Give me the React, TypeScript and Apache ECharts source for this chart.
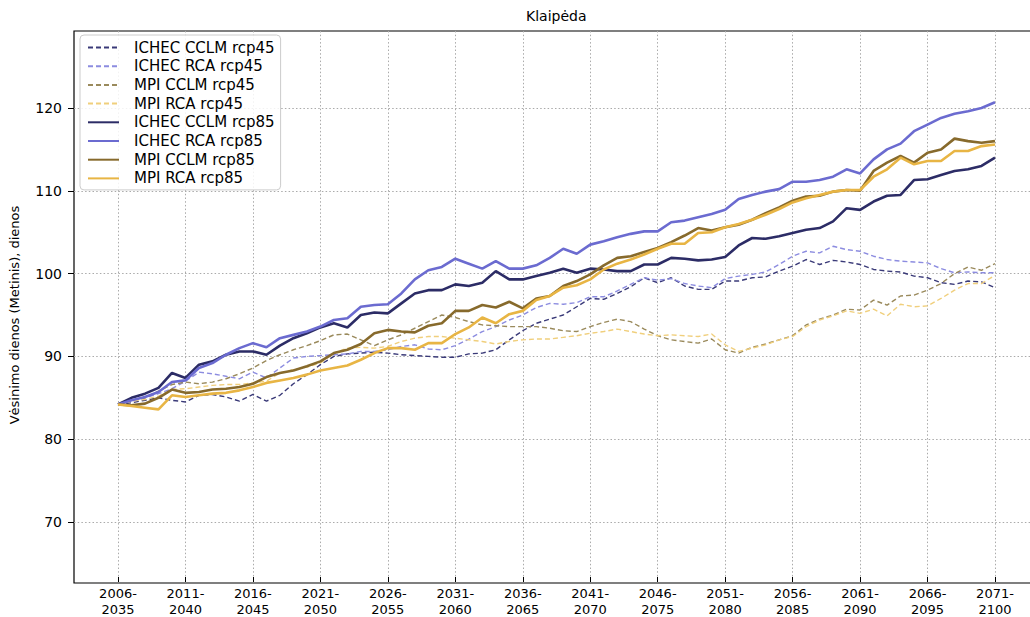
import React, { useEffect, useRef } from "react";
import * as echarts from "echarts";

const tickLabels = [
  "2006-\n2035", "2011-\n2040", "2016-\n2045", "2021-\n2050", "2026-\n2055",
  "2031-\n2060", "2036-\n2065", "2041-\n2070", "2046-\n2075", "2051-\n2080",
  "2056-\n2085", "2061-\n2090", "2066-\n2095", "2071-\n2100",
];

const seriesNames = [
  "ICHEC CCLM rcp45", "ICHEC RCA rcp45", "MPI CCLM rcp45", "MPI RCA rcp45",
  "ICHEC CCLM rcp85", "ICHEC RCA rcp85", "MPI CCLM rcp85", "MPI RCA rcp85",
];

const ichecCclm45 = [
  84.2, 84.4, 84.7, 85.0, 84.7, 84.5, 85.3, 85.4, 85.1, 84.6,
  85.4, 84.6, 85.3, 86.7, 87.8, 89.0, 90.0, 90.3, 90.4, 90.5,
  90.4, 90.2, 90.1, 90.0, 89.9, 89.9, 90.3, 90.4, 90.8, 92.0,
  93.1, 94.0, 94.5, 95.0, 96.0, 97.0, 96.9, 97.6, 98.4, 99.5,
  98.9, 99.5, 98.5, 98.1, 98.1, 99.1, 99.1, 99.5, 99.6, 100.3,
  100.9, 101.7, 101.1, 101.6, 101.4, 101.1, 100.5, 100.3, 100.2, 99.7,
  99.5, 98.9, 98.7, 99.1, 99.0, 98.3,
];
const ichecRca45 = [
  84.2, 84.6, 85.0, 85.5, 86.1, 87.0, 88.1, 87.9, 87.6, 87.3,
  88.1, 87.4, 88.6, 89.8, 90.0, 90.1, 90.2, 90.3, 90.6, 90.6,
  90.8, 91.2, 91.4, 90.9, 90.8, 91.3, 92.1, 93.0, 93.6, 94.4,
  95.0, 95.9, 96.4, 96.3, 96.5, 97.2, 97.2, 97.9, 98.7, 99.5,
  99.2, 99.4, 98.8, 98.5, 98.3, 99.4, 99.7, 99.9, 100.2, 101.1,
  102.1, 102.7, 102.5, 103.3, 102.9, 102.7, 102.1, 101.7, 101.5, 101.4,
  101.3, 100.6, 100.1, 100.2, 100.1, 100.1,
];
const mpiCclm45 = [
  84.2, 84.6, 85.0, 85.8, 86.6, 86.9, 86.7, 86.9, 87.3, 87.9,
  88.6, 89.5, 90.2, 90.8, 91.3, 91.9, 92.6, 92.7, 92.0, 91.3,
  92.0, 92.6, 93.4, 94.2, 95.0, 94.7, 94.2, 93.8, 93.7, 93.6,
  93.6, 93.6, 93.4, 93.1, 93.0, 93.6, 94.1, 94.5, 94.2, 93.3,
  92.5, 92.0, 91.8, 91.6, 92.1, 90.8, 90.4, 91.1, 91.5, 92.0,
  92.5, 93.8, 94.5, 95.0, 95.7, 95.6, 96.8, 96.2, 97.3, 97.4,
  98.0, 98.8, 100.0, 100.8, 100.4, 101.2,
];
const mpiRca45 = [
  84.2, 84.6, 84.8, 85.2, 86.0, 86.1, 86.3, 86.5, 86.6, 86.6,
  86.8, 87.0, 88.0, 88.4, 88.7, 89.2, 90.4, 91.0, 91.1, 91.0,
  91.2, 91.8, 92.2, 92.4, 92.4, 92.2, 92.0, 91.8, 91.5, 91.8,
  92.0, 92.1, 92.1, 92.3, 92.5, 92.8, 93.0, 93.3, 93.0, 92.7,
  92.5, 92.6, 92.5, 92.4, 92.7, 91.4, 90.6, 91.0, 91.4, 92.0,
  92.4, 93.6, 94.4, 94.9, 95.5, 95.2, 95.7, 94.9, 96.3, 96.0,
  96.1, 97.0, 98.0, 98.8, 98.8, 99.8,
];
const ichecCclm85 = [
  84.2, 85.0, 85.5, 86.2, 88.0, 87.4, 89.0, 89.4, 90.2, 90.6,
  90.6, 90.2, 91.3, 92.2, 92.8, 93.5, 94.0, 93.5, 95.0, 95.3,
  95.2, 96.4, 97.6, 98.0, 98.0, 98.7, 98.5, 98.9, 100.3, 99.3,
  99.3, 99.7, 100.1, 100.6, 100.1, 100.6, 100.5, 100.3, 100.3, 101.1,
  101.1, 101.9, 101.8, 101.6, 101.7, 102.0, 103.4, 104.3, 104.2, 104.5,
  104.9, 105.3, 105.5, 106.3, 107.9, 107.7, 108.7, 109.4, 109.5, 111.3,
  111.4, 111.9, 112.4, 112.6, 113.0, 114.0,
];
const ichecRca85 = [
  84.2, 84.7, 85.1, 85.7, 86.9, 87.1, 88.6, 89.2, 90.2, 91.0,
  91.6, 91.1, 92.2, 92.6, 93.0, 93.6, 94.4, 94.6, 96.0, 96.2,
  96.3, 97.6, 99.3, 100.4, 100.8, 101.8, 101.2, 100.6, 101.5, 100.6,
  100.6, 101.0, 101.9, 103.0, 102.4, 103.5, 103.9, 104.4, 104.8, 105.1,
  105.1, 106.2, 106.4, 106.8, 107.2, 107.7, 109.0, 109.5, 109.9, 110.2,
  111.1, 111.1, 111.3, 111.7, 112.6, 112.1, 113.8, 115.0, 115.7, 117.2,
  118.0, 118.8, 119.3, 119.6, 120.0, 120.7,
];
const mpiCclm85 = [
  84.2, 84.1, 84.3, 85.0, 86.0, 85.6, 85.7, 86.0, 86.1, 86.3,
  86.7, 87.5, 88.0, 88.3, 88.8, 89.4, 90.4, 90.8, 91.5, 92.8,
  93.2, 93.0, 92.9, 93.7, 94.0, 95.5, 95.5, 96.2, 95.9, 96.6,
  95.8, 97.0, 97.3, 98.5, 99.1, 99.9, 101.0, 101.9, 102.1, 102.6,
  103.1, 103.8, 104.6, 105.5, 105.2, 105.6, 105.9, 106.5, 107.3, 108.0,
  108.8, 109.3, 109.4, 109.9, 110.1, 110.0, 112.4, 113.4, 114.2, 113.4,
  114.6, 115.0, 116.3, 116.0, 115.8, 116.0,
];
const mpiRca85 = [
  84.2, 84.0, 83.8, 83.6, 85.3, 85.1, 85.3, 85.5, 85.6, 85.9,
  86.3, 86.8, 87.1, 87.4, 87.8, 88.3, 88.6, 88.9, 89.6, 90.4,
  91.0, 91.0, 90.8, 91.6, 91.6, 92.7, 93.5, 94.7, 94.0, 95.1,
  95.5, 96.8, 97.3, 98.3, 98.6, 99.3, 100.5, 101.2, 101.7, 102.3,
  103.0, 103.6, 103.6, 104.9, 105.0, 105.6, 106.0, 106.5, 107.1, 107.8,
  108.6, 109.1, 109.5, 109.9, 110.1, 110.1, 111.7, 112.6, 114.0, 113.2,
  113.6, 113.6, 114.8, 114.8, 115.4, 115.6,
];

const allValues = [
  ichecCclm45, ichecRca45, mpiCclm45, mpiRca45,
  ichecCclm85, ichecRca85, mpiCclm85, mpiRca85,
];
const colors = [
  "#3a3a78", "#8c8ce0", "#9a8a5c", "#f0cf7c",
  "#2c2c66", "#6b6bd0", "#876a2c", "#e8b544",
];

const FONT = "DejaVu Sans";
const gridDash = [1.5, 2.2];

export default function App() {
  const ref = useRef<HTMLDivElement>(null);
  useEffect(() => {
    const chart = echarts.init(ref.current!, null, { renderer: "svg" });
    const series = allValues.map((vals, k) => ({
      name: seriesNames[k],
      type: "line",
      xAxisIndex: 0,
      yAxisIndex: 0,
      data: vals.map((v, i) => [i, v]),
      symbol: "none",
      lineStyle: {
        color: colors[k],
        width: k < 4 ? 1.4 : 2.6,
        type: k < 4 ? [5, 3] : "solid",
      },
      itemStyle: { color: colors[k] },
      z: k < 4 ? 3 : 4,
    }));
    const option: any = {
      animation: false,
      textStyle: { fontFamily: FONT },
      graphic: [
        {
          type: "text",
          left: 556 - 30,
          top: 9,
          style: { text: "Klaipėda", font: `14px '${FONT}'`, fill: "#000" },
        },
      ],
      legend: {
        orient: "vertical",
        left: 80,
        top: 35,
        padding: [5, 6, 4, 7],
        itemWidth: 31,
        itemHeight: 12,
        itemGap: 3.7,
        backgroundColor: "rgba(255,255,255,0.85)",
        borderColor: "#cccccc",
        borderWidth: 1,
        borderRadius: 4,
        itemStyle: { opacity: 0 },
        data: seriesNames,
        textStyle: { fontFamily: FONT, fontSize: 15, color: "#000", padding: [0, 0, 0, 10] },
      },
      grid: [
        { left: 74, top: 31, width: 965, height: 552, show: true, borderColor: "#000", borderWidth: 1.2, backgroundColor: "transparent" },
        { left: 118, top: 31, width: 877, height: 552 },
        { left: 74, top: 108, width: 965, height: 414 },
      ],
      xAxis: [
        { gridIndex: 0, type: "value", min: -3.261, max: 68.261, show: false },
        {
          gridIndex: 1,
          type: "value",
          min: 0,
          max: 65,
          interval: 5,
          axisLine: { show: false, onZero: false },
          axisTick: { show: true, length: 5, lineStyle: { color: "#000", width: 1 } },
          axisLabel: {
            formatter: (v: number) => tickLabels[Math.round(v / 5)] ?? "",
            fontFamily: FONT,
            fontSize: 13,
            color: "#000",
            margin: 8,
            lineHeight: 16,
          },
          splitLine: { show: true, lineStyle: { color: "#aaaaaa", type: gridDash, width: 1 } },
        },
        { gridIndex: 2, type: "value", min: 0, max: 1, show: false },
      ],
      yAxis: [
        { gridIndex: 0, type: "value", min: 62.633, max: 129.3, show: false },
        { gridIndex: 1, type: "value", min: 0, max: 1, show: false },
        {
          gridIndex: 2,
          type: "value",
          min: 70,
          max: 120,
          interval: 10,
          name: "Vėsinimo dienos (Metinis), dienos",
          nameLocation: "middle",
          nameGap: 53,
          nameRotate: 90,
          nameTextStyle: { fontFamily: FONT, fontSize: 13, color: "#000" },
          axisLine: { show: false, onZero: false },
          axisTick: { show: true, length: 6, lineStyle: { color: "#000", width: 1 } },
          axisLabel: { fontFamily: FONT, fontSize: 14, color: "#000", margin: 12 },
          splitLine: { show: true, lineStyle: { color: "#aaaaaa", type: gridDash, width: 1 } },
        },
      ],
      series,
    };
    chart.setOption(option);
    return () => chart.dispose();
  }, []);
  return (
    <div
      style={{
        position: "fixed",
        left: 0,
        top: 0,
        width: 1030,
        height: 617,
        overflow: "hidden",
        background: "#fff",
      }}
    >
      <div ref={ref} style={{ width: 1045, height: 617 }} />
    </div>
  );
}
